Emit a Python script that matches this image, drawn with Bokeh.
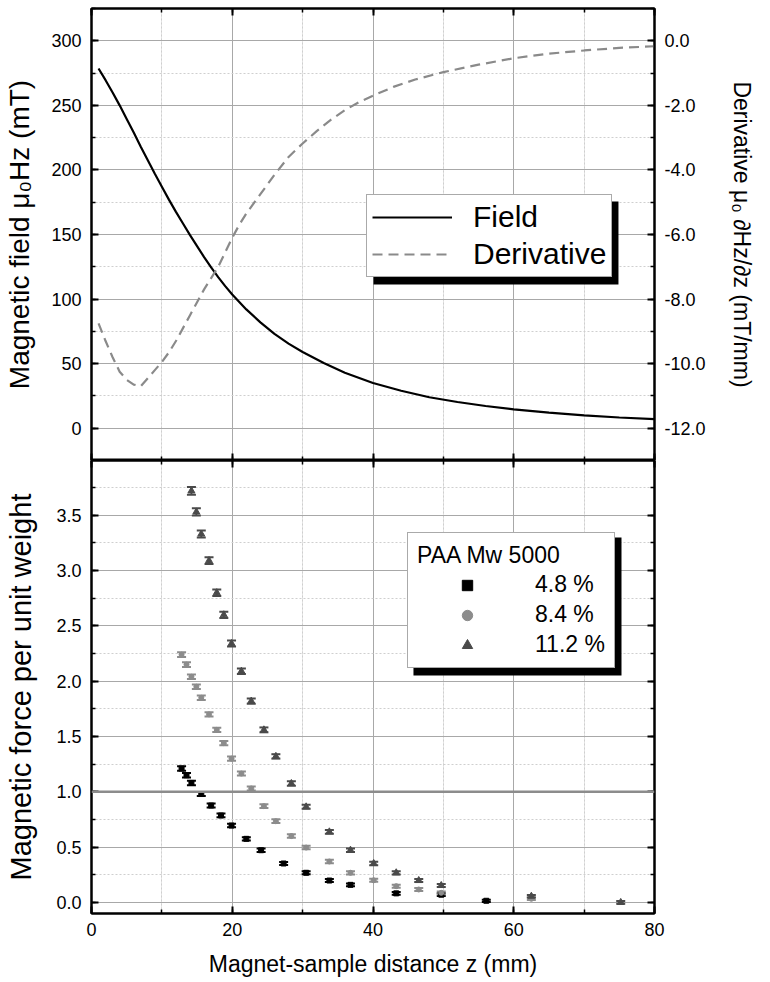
from bokeh.plotting import figure
from bokeh.models import (Range1d, LinearAxis, SingleIntervalTicker, PrintfTickFormatter,
                          Legend, LegendItem, BoxAnnotation, Span, Whisker, ColumnDataSource,
                          TeeHead, Grid, CustomJSTickFormatter)
from bokeh.layouts import column
from bokeh.embed import file_html
from bokeh.resources import INLINE

FONT = "Liberation Sans"

# ---------------- data ----------------
# top panel: field (mT) and its derivative (mT/mm) vs distance z (mm)
field_z = [1, 2, 3, 4, 5, 6, 7, 8, 9, 10, 11, 12, 13, 14, 15, 16, 17, 18, 19, 20, 22, 24,
           26, 28, 30, 33, 36, 40, 44, 48, 52, 56, 60, 65, 70, 75, 80]
field_b = [278.5, 269.5, 260, 250, 239.5, 229, 218, 207.5, 197, 187, 177, 167.5, 158.5,
           149.5, 141, 132.5, 124.5, 117, 110, 103.5, 92, 82, 73, 65.5, 59, 50.5, 43, 35,
           29, 24, 20.3, 17.2, 14.6, 12, 10, 8.3, 7]

deriv_z = [1, 2, 3, 4, 5, 6, 7, 8, 9, 10, 11, 12, 13, 14, 15, 16, 17, 18, 19, 20, 21,
           22, 24, 26, 28, 30, 32, 34, 36, 38, 40, 43, 46, 50, 55, 60, 65, 70, 75, 80]
deriv_v = [-8.75, -9.3, -9.8, -10.25, -10.5, -10.65, -10.7, -10.45, -10.2, -9.95, -9.65,
           -9.3, -8.9, -8.5, -8.1, -7.7, -7.35, -7.0, -6.55, -6.1, -5.7, -5.35, -4.75,
           -4.15, -3.6, -3.18, -2.8, -2.45, -2.15, -1.9, -1.7, -1.42, -1.2, -0.97, -0.74,
           -0.54, -0.4, -0.3, -0.22, -0.17]

# bottom panel: magnetic force per unit weight
sq_z = [12.8, 13.5, 14.2, 15.6, 17.0, 18.4, 19.9, 22.0, 24.1, 27.3, 30.5, 33.8, 36.8,
        43.3, 49.7, 56.1]
sq_f = [1.21, 1.15, 1.08, 0.98, 0.876, 0.786, 0.695, 0.575, 0.472, 0.352, 0.268, 0.198,
        0.159, 0.082, 0.07, 0.015]
sq_e = [0.02, 0.02, 0.02, 0.018, 0.018, 0.017, 0.016, 0.015, 0.015, 0.014, 0.014, 0.013,
        0.013, 0.012, 0.012, 0.01]

ci_z = [12.8, 13.5, 14.2, 14.9, 15.6, 16.7, 17.8, 18.8, 19.9, 21.3, 22.7, 24.5, 26.2,
        28.4, 30.5, 33.8, 36.8, 40.1, 43.3, 46.5, 49.7, 62.5]
ci_f = [2.24, 2.15, 2.04, 1.95, 1.85, 1.70, 1.56, 1.44, 1.30, 1.165, 1.03, 0.87, 0.734,
        0.60, 0.496, 0.37, 0.268, 0.20, 0.147, 0.117, 0.087, 0.033]
ci_e = [0.022, 0.022, 0.021, 0.021, 0.02, 0.02, 0.02, 0.019, 0.019, 0.018, 0.018, 0.017,
        0.017, 0.016, 0.016, 0.015, 0.015, 0.014, 0.014, 0.013, 0.013, 0.012]

tr_z = [14.2, 14.9, 15.6, 16.7, 17.8, 18.8, 19.9, 21.3, 22.7, 24.5, 26.2, 28.4, 30.5,
        33.8, 36.8, 40.1, 43.3, 46.5, 49.7, 62.5, 75.2]
tr_f = [3.72, 3.53, 3.33, 3.09, 2.80, 2.60, 2.34, 2.09, 1.82, 1.56, 1.32, 1.075, 0.864,
        0.638, 0.472, 0.352, 0.268, 0.198, 0.153, 0.056, 0.0]
tr_e = [0.035, 0.033, 0.032, 0.03, 0.03, 0.028, 0.027, 0.025, 0.024, 0.022, 0.02, 0.02,
        0.018, 0.017, 0.016, 0.015, 0.015, 0.014, 0.014, 0.012, 0.012]

series_labels = ["4.8 %", "8.4 %", "11.2 %"]
legend_title = "PAA Mw 5000"

# ---------------- styling helpers ----------------
MAJOR_GRID = "#a8a8a8"
MINOR_GRID = "#cfcfcf"


def style_axis(ax, show_labels=True, label_size="18px"):
    ax.axis_line_color = "black"
    ax.axis_line_width = 2
    ax.major_tick_in = 7
    ax.major_tick_out = 0
    ax.minor_tick_in = 4
    ax.minor_tick_out = 0
    ax.major_tick_line_color = "black"
    ax.major_tick_line_width = 2
    ax.minor_tick_line_color = "black"
    ax.minor_tick_line_width = 1.5
    ax.major_label_text_font = FONT
    ax.axis_label_text_font = FONT
    ax.axis_label_text_font_style = "normal"
    ax.axis_label_text_color = "black"
    ax.major_label_text_color = "black"
    if show_labels:
        ax.major_label_text_font_size = label_size
    else:
        ax.formatter = CustomJSTickFormatter(code="return ''")
        ax.major_label_text_font_size = "1px"
        ax.major_label_standoff = 0


def add_grids(p, xticker, yticker):
    gx = Grid(dimension=0, ticker=xticker, grid_line_color=MAJOR_GRID, grid_line_width=1,
              minor_grid_line_color=MINOR_GRID, minor_grid_line_dash="2 2")
    gy = Grid(dimension=1, ticker=yticker, grid_line_color=MAJOR_GRID, grid_line_width=1,
              minor_grid_line_color=MINOR_GRID, minor_grid_line_dash="2 2")
    p.add_layout(gx)
    p.add_layout(gy)


x_range = Range1d(0, 80)

# ---------------- top panel ----------------
p1 = figure(frame_width=563, frame_height=452, x_range=x_range, y_range=Range1d(-25, 325),
            output_backend="svg", toolbar_location=None,
            x_axis_location=None, y_axis_location=None,
            min_border_left=91, min_border_right=116, min_border_top=8, min_border_bottom=0)
p1.extra_y_ranges = {"deriv": Range1d(-13, 1)}
p1.outline_line_color = "black"
p1.outline_line_width = 2
p1.background_fill_color = "white"

xt1 = SingleIntervalTicker(interval=20, num_minor_ticks=2)
yt1 = SingleIntervalTicker(interval=50, num_minor_ticks=2)
add_grids(p1, xt1, yt1)

left1 = LinearAxis(ticker=yt1, axis_label="Magnetic field μ₀Hz (mT)",
                   axis_label_text_font_size="28px", axis_label_standoff=13,
                   major_label_standoff=10)
style_axis(left1)
p1.add_layout(left1, "left")

right1 = LinearAxis(y_range_name="deriv", ticker=SingleIntervalTicker(interval=2, num_minor_ticks=2),
                    formatter=PrintfTickFormatter(format="%.1f"),
                    axis_label="Derivative μ₀ ∂Hz/∂z (mT/mm)",
                    axis_label_text_font_size="23px", axis_label_standoff=20,
                    major_label_standoff=10)
style_axis(right1)
p1.add_layout(right1, "right")

top1 = LinearAxis(ticker=xt1)
style_axis(top1, show_labels=False)
p1.add_layout(top1, "above")
bot1 = LinearAxis(ticker=xt1)
style_axis(bot1, show_labels=False)
p1.add_layout(bot1, "below")

r_field = p1.line(field_z, field_b, line_color="black", line_width=2.2)
r_deriv = p1.line(deriv_z, deriv_v, y_range_name="deriv", line_color="#8a8a8a",
                  line_width=2.2, line_dash="10 6")

shadow1 = BoxAnnotation(left=40.07, right=74.88, top=175.6, bottom=111.3,
                        fill_color="black", fill_alpha=1.0, line_alpha=0)
p1.add_layout(shadow1)

leg1 = Legend(items=[LegendItem(label="Field", renderers=[r_field]),
                     LegendItem(label="Derivative", renderers=[r_deriv])],
              location=(275, 183), margin=0, padding=5, spacing=3,
              glyph_width=80, glyph_height=30, label_height=30, label_standoff=21,
              label_text_font=FONT, label_text_font_size="30px", label_text_color="black",
              border_line_color="#555555", border_line_width=1,
              background_fill_color="white", background_fill_alpha=1.0)
p1.add_layout(leg1)

# ---------------- bottom panel ----------------
p2 = figure(frame_width=563, frame_height=453, x_range=x_range, y_range=Range1d(-0.1, 3.995),
            output_backend="svg", toolbar_location=None,
            x_axis_location=None, y_axis_location=None,
            min_border_left=91, min_border_right=116, min_border_top=0, min_border_bottom=69)
p2.outline_line_color = "black"
p2.outline_line_width = 2

xt2 = SingleIntervalTicker(interval=20, num_minor_ticks=2)
yt2 = SingleIntervalTicker(interval=0.5, num_minor_ticks=2)
add_grids(p2, xt2, yt2)

left2 = LinearAxis(ticker=yt2, formatter=PrintfTickFormatter(format="%.1f"),
                   axis_label="Magnetic force per unit weight",
                   axis_label_text_font_size="29px", axis_label_standoff=16,
                   major_label_standoff=10)
style_axis(left2)
p2.add_layout(left2, "left")

right2 = LinearAxis(ticker=yt2)
style_axis(right2, show_labels=False)
p2.add_layout(right2, "right")

top2 = LinearAxis(ticker=xt2)
style_axis(top2, show_labels=False)
p2.add_layout(top2, "above")

bot2 = LinearAxis(ticker=xt2, axis_label="Magnet-sample distance z (mm)",
                  axis_label_text_font_size="23px", axis_label_standoff=12,
                  major_label_standoff=9)
style_axis(bot2)
p2.add_layout(bot2, "below")

p2.add_layout(Span(location=1.0, dimension="width", line_color="#8c8c8c", line_width=2.5))

colors = ["#000000", "#8c8c8c", "#4a4a4a"]
markers = ["square", "circle", "triangle"]
sizes = [5, 5, 7]
data_sets = [(sq_z, sq_f, sq_e), (ci_z, ci_f, ci_e), (tr_z, tr_f, tr_e)]
scatter_renderers = []
for (zz, ff, ee), c, m, s in zip(data_sets, colors, markers, sizes):
    src = ColumnDataSource(dict(z=zz, f=ff,
                                up=[a + b for a, b in zip(ff, ee)],
                                lo=[a - b for a, b in zip(ff, ee)]))
    w = Whisker(source=src, base="z", upper="up", lower="lo", line_color=c, line_width=1.8,
                upper_head=TeeHead(size=9, line_color=c, line_width=2),
                lower_head=TeeHead(size=9, line_color=c, line_width=2))
    p2.add_layout(w)
    r = p2.scatter("z", "f", source=src, marker=m, size=s, fill_color=c, line_color=c)
    scatter_renderers.append(r)

shadow2 = BoxAnnotation(left=45.75, right=75.31, top=3.299, bottom=2.051,
                        fill_color="black", fill_alpha=1.0, line_alpha=0)
p2.add_layout(shadow2)

leg2 = Legend(items=[LegendItem(label=lab, renderers=[r]) for lab, r in zip(series_labels, scatter_renderers)],
              title=legend_title, title_text_font=FONT, title_text_font_size="23px",
              title_text_font_style="normal", title_text_color="black",
              title_text_align="center", title_standoff=2,
              location=(316, 245), margin=0, padding=9, spacing=3,
              glyph_width=100, glyph_height=26, label_height=26, label_standoff=18,
              label_text_font=FONT, label_text_font_size="23px", label_text_color="black",
              border_line_color="#555555", border_line_width=1,
              background_fill_color="white", background_fill_alpha=1.0)
p2.add_layout(leg2)

layout = column(p1, p2, spacing=0)
open("out.html", "w").write(file_html(layout, INLINE))
